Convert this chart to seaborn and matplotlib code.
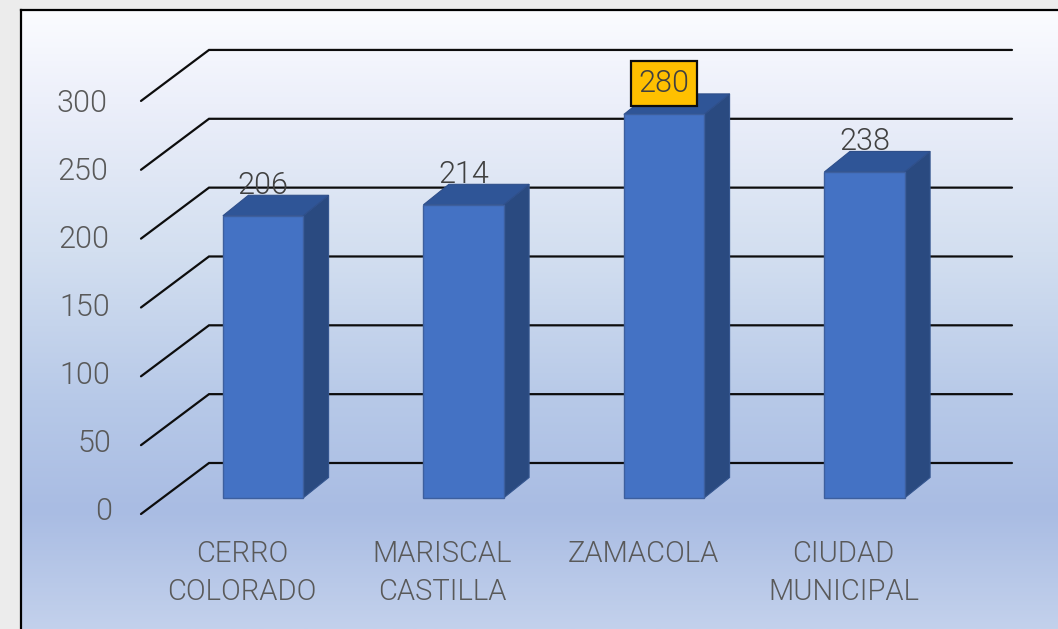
import numpy as np
import pandas as pd
import seaborn as sns
import matplotlib.pyplot as plt
from matplotlib.colors import LinearSegmentedColormap
from matplotlib.patches import Polygon
from matplotlib.transforms import ScaledTranslation

# datos del grafico
distritos = ["CERRO\nCOLORADO", "MARISCAL\nCASTILLA", "ZAMACOLA", "CIUDAD\nMUNICIPAL"]
valores = [206, 214, 280, 238]
ticks_y = [0, 50, 100, 150, 200, 250, 300]

# escala: pixeles de la imagen por unidad
W, H = 1058, 629
PX_CAT = 200.5
PX_VAL = 1.37
X0, Y0 = 263, 498   # centro de la primera barra y su base


def px_x(px):
    return (px - X0) / PX_CAT


def px_y(px):
    return (Y0 - px) / PX_VAL


sns.set_style("white")
plt.rcParams["font.family"] = ["Roboto", "DejaVu Sans"]
PESO = 300

fig = plt.figure(figsize=(W / 100, H / 100), dpi=100, facecolor="#ececec")

# fondo con degradado
bg = fig.add_axes([21 / W, 0, 1 - 21 / W, (H - 10) / H])
cmap = LinearSegmentedColormap.from_list("fondo", [
    (0.0, "#fbfcff"), (0.15, "#eceffa"), (0.39, "#d3dff0"),
    (0.63, "#b7c9e8"), (0.81, "#a9bce3"), (1.0, "#c3d1ec")])
bg.imshow(np.linspace(0, 1, 256).reshape(-1, 1), aspect="auto", cmap=cmap)
bg.set_xticks([])
bg.set_yticks([])
for lado in ["top", "left"]:
    bg.spines[lado].set_color("black")
    bg.spines[lado].set_linewidth(1.6)
bg.spines["right"].set_visible(False)
bg.spines["bottom"].set_visible(False)

# ejes principales en toda la figura
ax = fig.add_axes([0, 0, 1, 1], facecolor="none")
df = pd.DataFrame({"distrito": distritos, "valor": valores})
sns.barplot(data=df, x="distrito", y="valor", color="#4472c4", width=0.4, saturation=1,
            edgecolor="#3d5f9e", linewidth=1, ax=ax, zorder=3)
ax.set_xlim(px_x(0), px_x(W))
ax.set_ylim(px_y(H), px_y(0))
ax.set_xlabel("")
ax.set_ylabel("")
for s in ax.spines.values():
    s.set_visible(False)

# lineas de division (pared del fondo y piso)
for v in ticks_y:
    y_atras = v * 1.005 + px_y(463)
    y_frente = v * 1.005 + px_y(514)
    ax.plot([px_x(141), px_x(209), px_x(1012)], [y_frente, y_atras, y_atras],
            color="#0d0d0d", lw=1.6, solid_joinstyle="miter", zorder=1)

# caras laterales y superiores de las barras
dx = 25.5 / PX_CAT
dy = 20.5 / PX_VAL
for b in ax.containers[0]:
    x1, x2 = b.get_x(), b.get_x() + b.get_width()
    top = b.get_height()
    ax.add_patch(Polygon([(x2, 0), (x2 + dx, dy), (x2 + dx, top + dy), (x2, top)],
                         fc="#2a4a80", ec="#34558f", lw=0.8, zorder=2.9))
    ax.add_patch(Polygon([(x1, top), (x1 + dx, top + dy), (x2 + dx, top + dy), (x2, top)],
                         fc="#2f5597", ec="#2f4f8a", lw=0.8, zorder=2.9))

# etiquetas de los ejes
ax.tick_params(axis="both", length=0)
ax.set_yticks(ticks_y)
ax.set_yticklabels(ticks_y, fontsize=22, color="#595959", fontweight=PESO, ha="right")
for v, lab in zip(ticks_y, ax.get_yticklabels()):
    despl = ScaledTranslation((117 - v * 0.015) / 100, -(10 + v * 0.013) / 100, fig.dpi_scale_trans)
    lab.set_transform(lab.get_transform() + despl)

ax.tick_params(axis="x", pad=0)
ax.set_xticks(range(len(distritos)))
ax.set_xticklabels(distritos, fontsize=21, color="#595959", fontweight=PESO,
                   linespacing=1.45, va="top")
despl_x = ScaledTranslation(-21 / 100, (H - 540) / 100, fig.dpi_scale_trans)
for lab in ax.get_xticklabels():
    lab.set_transform(lab.get_transform() + despl_x)

# etiquetas de datos
etiquetas = ax.bar_label(ax.containers[0], labels=[str(v) for v in valores], padding=11.5,
                         fontsize=22, color="#404040", fontweight=PESO, zorder=5)
etiquetas[2].set_bbox(dict(boxstyle="square,pad=0.26", fc="#ffc000", ec="#0d0d0d", lw=1.6))
etiquetas[2].set_zorder(6)

fig.savefig("out.png", dpi=100)
